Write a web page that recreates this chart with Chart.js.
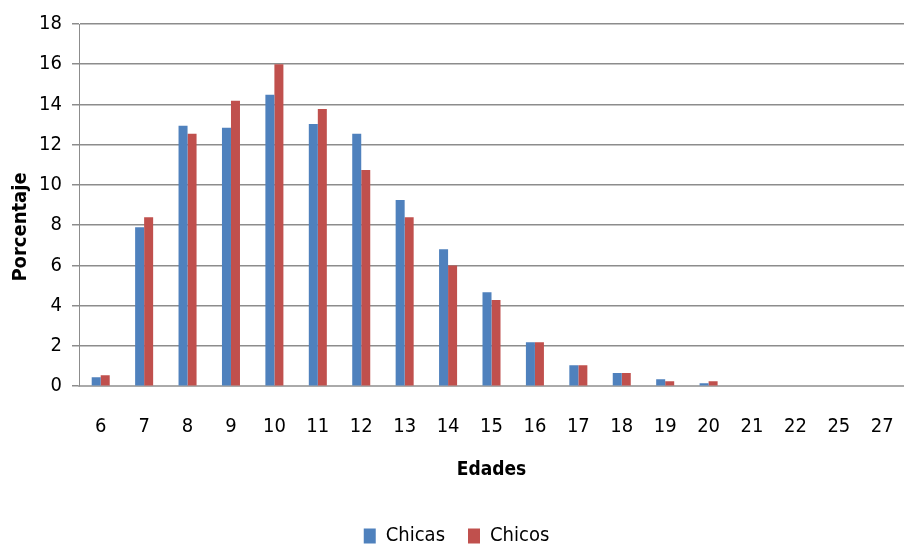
<!DOCTYPE html>
<html>
<head>
<meta charset="utf-8">
<script src="https://cdn.jsdelivr.net/npm/chart.js@4/dist/chart.umd.min.js"></script>
<style>
  html, body { margin: 0; padding: 0; background: #ffffff; }
  #wrap { width: 904px; height: 547px; position: relative; }
</style>
</head>
<body>
<div id="wrap"><canvas id="c" width="904" height="547"></canvas></div>
<script>
// Distribución de edades por sexo (porcentaje)
const edades = ['6','7','8','9','10','11','12','13','14','15','16','17','18','19','20','21','22','25','27'];
const chicas = [0.45, 7.9, 12.94, 12.84, 14.48, 13.03, 12.54, 9.25, 6.8, 4.67, 2.19, 1.04, 0.65, 0.35, 0.15, 0.03, 0.03, 0.03, 0.03];
const chicos = [0.55, 8.4, 12.54, 14.18, 16.0, 13.78, 10.75, 8.4, 6.0, 4.28, 2.19, 1.04, 0.65, 0.25, 0.25, 0.03, 0.0, 0.03, 0.03];
const yTicks = [0, 2, 4, 6, 8, 10, 12, 14, 16, 18];

const FONT = "'DejaVu Sans Condensed', 'Liberation Sans', sans-serif";
// trailing no-break spaces push the rotated axis title a little lower than centre
const Y_TITLE = 'Porcentaje' + '\u00A0'.repeat(7);

new Chart(document.getElementById('c'), {
  type: 'bar',
  data: {
    labels: edades,
    datasets: [
      { label: 'Chicas', data: chicas, backgroundColor: '#4F81BD', borderWidth: 0 },
      { label: 'Chicos', data: chicos, backgroundColor: '#C0504D', borderWidth: 0 }
    ]
  },
  options: {
    responsive: false,
    animation: false,
    devicePixelRatio: 1,
    layout: { padding: { top: 24, right: 0, left: 9, bottom: -9 } },
    datasets: { bar: { barPercentage: 1.0, categoryPercentage: 0.415 } },
    plugins: {
      tooltip: { enabled: false },
      legend: {
        position: 'bottom',
        labels: {
          color: '#000',
          font: { family: FONT, size: 20 },
          boxWidth: 12,
          boxHeight: 15,
          padding: 23
        }
      }
    },
    scales: {
      x: {
        grid: { display: true, drawOnChartArea: false, drawTicks: true, tickLength: 29, tickColor: 'rgba(0,0,0,0)' },
        border: { display: true, color: '#aaaaaa', width: 2 },
        ticks: { color: '#000', font: { family: FONT, size: 20 }, padding: 0, maxRotation: 0, autoSkip: false },
        title: { display: true, text: 'Edades', color: '#000', font: { family: FONT, size: 19, weight: 'bold' }, padding: { top: 19, bottom: 22 } }
      },
      y: {
        min: 0,
        max: 18,
        afterBuildTicks: (axis) => { axis.ticks = yTicks.map(v => ({ value: v })); },
        afterFit: (axis) => { axis.width = 70; axis.paddingTop = 0; axis.paddingBottom = 0; },
        grid: { color: '#8c8c8c', lineWidth: 1.5, tickLength: 7, tickColor: '#8c8c8c' },
        border: { display: true, color: '#8c8c8c', width: 1 },
        ticks: { color: '#000', font: { family: FONT, size: 20 }, padding: 10 },
        title: { display: true, text: Y_TITLE, color: '#000', font: { family: FONT, size: 20, weight: 'bold' }, padding: { top: 0, bottom: 0 } }
      }
    }
  }
});
</script>
</body>
</html>
